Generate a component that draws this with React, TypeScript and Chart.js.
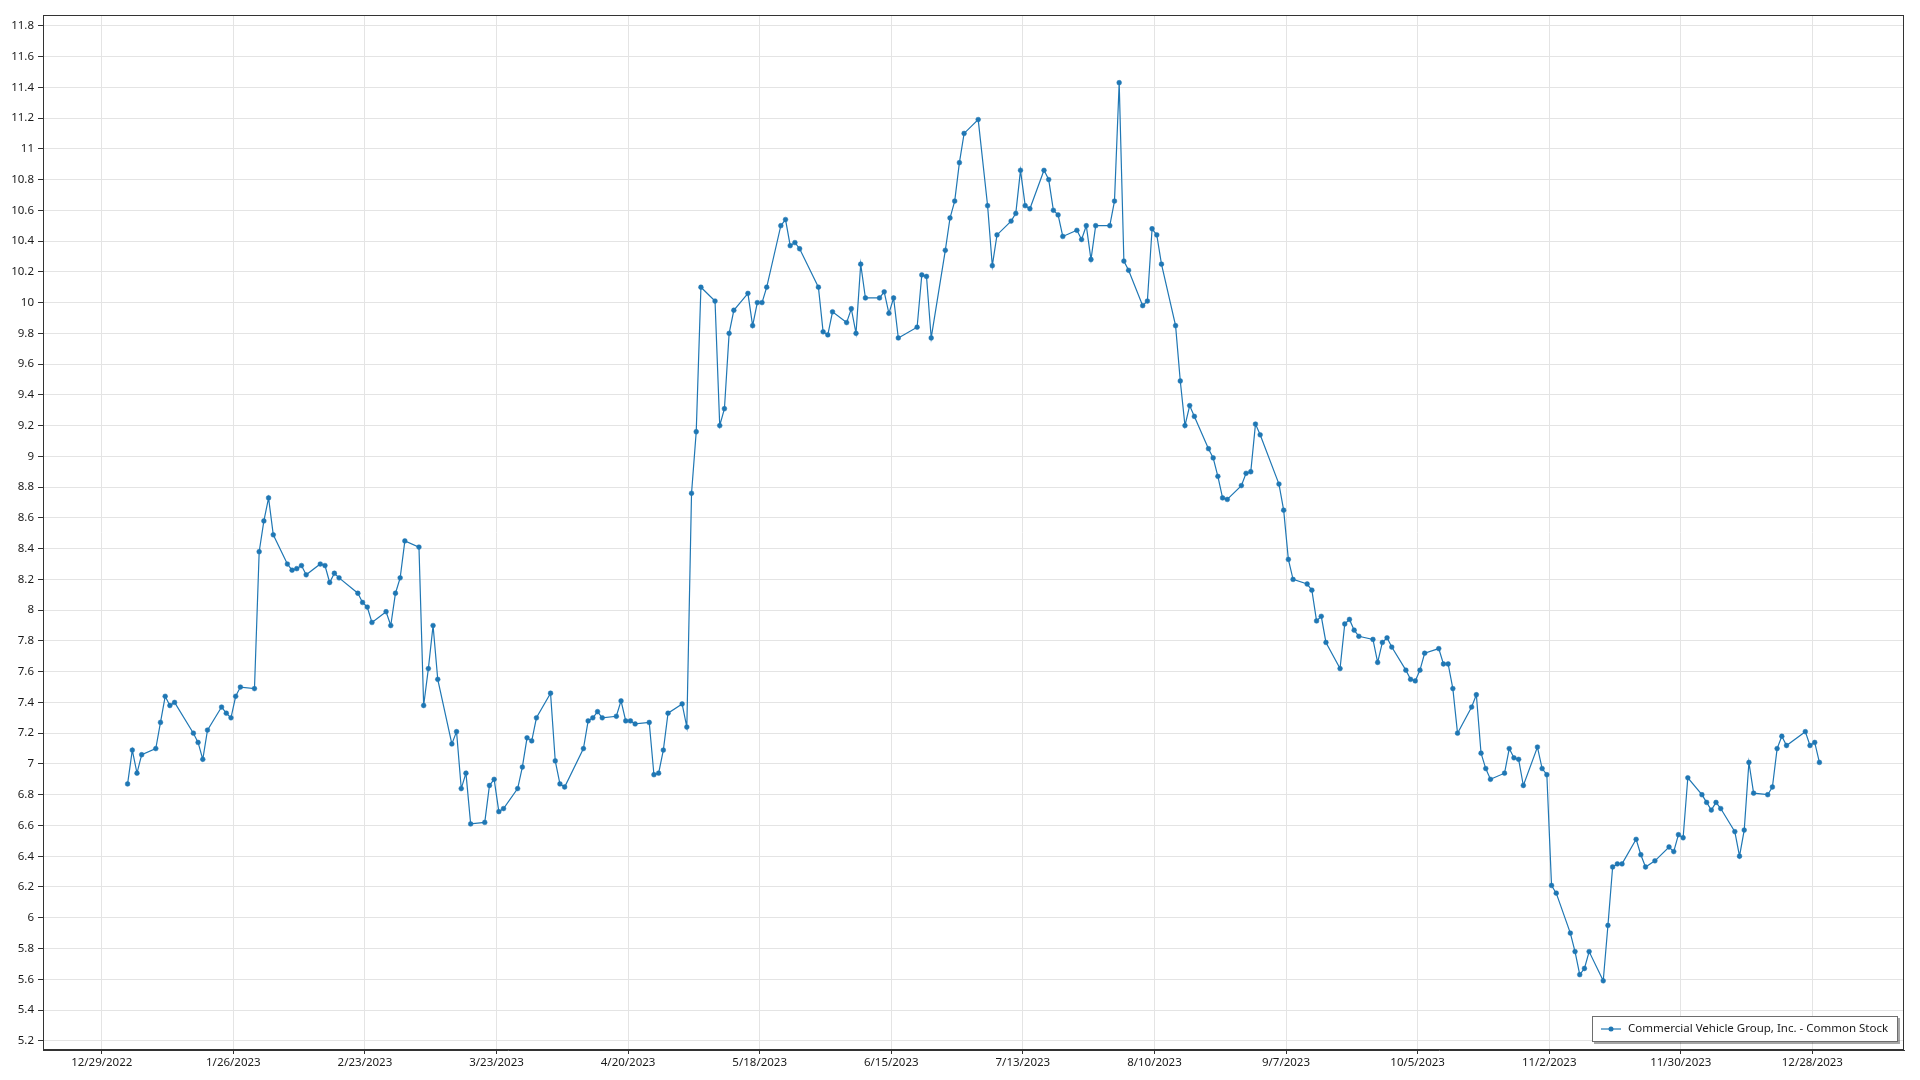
import React, { useEffect, useRef } from 'react';
import { Chart, registerables } from 'chart.js';

Chart.register(...registerables);

const SERIES_LABEL = 'Commercial Vehicle Group, Inc. - Common Stock';
const YEAR = 2023;

// Trading days (day of month) and closing prices, per month of 2023
const janDays = [3, 4, 5, 6, 9, 10, 11, 12, 13, 17, 18, 19, 20, 23, 24, 25, 26, 27, 30, 31];
const janClose = [6.87, 7.09, 6.94, 7.06, 7.1, 7.27, 7.44, 7.38, 7.4, 7.2, 7.14, 7.03, 7.22, 7.37, 7.33, 7.3, 7.44, 7.5, 7.49, 8.38];
const febDays = [1, 2, 3, 6, 7, 8, 9, 10, 13, 14, 15, 16, 17, 21, 22, 23, 24, 27, 28];
const febClose = [8.58, 8.73, 8.49, 8.3, 8.26, 8.27, 8.29, 8.23, 8.3, 8.29, 8.18, 8.24, 8.21, 8.11, 8.05, 8.02, 7.92, 7.99, 7.9];
const marDays = [1, 2, 3, 6, 7, 8, 9, 10, 13, 14, 15, 16, 17, 20, 21, 22, 23, 24, 27, 28, 29, 30, 31];
const marClose = [8.11, 8.21, 8.45, 8.41, 7.38, 7.62, 7.9, 7.55, 7.13, 7.21, 6.84, 6.94, 6.61, 6.62, 6.86, 6.9, 6.69, 6.71, 6.84, 6.98, 7.17, 7.15, 7.3];
const aprDays = [3, 4, 5, 6, 10, 11, 12, 13, 14, 17, 18, 19, 20, 21, 24, 25, 26, 27, 28];
const aprClose = [7.46, 7.02, 6.87, 6.85, 7.1, 7.28, 7.3, 7.34, 7.3, 7.31, 7.41, 7.28, 7.28, 7.26, 7.27, 6.93, 6.94, 7.09, 7.33];
const mayDays = [1, 2, 3, 4, 5, 8, 9, 10, 11, 12, 15, 16, 17, 18, 19, 22, 23, 24, 25, 26, 30, 31];
const mayClose = [7.39, 7.24, 8.76, 9.16, 10.1, 10.01, 9.2, 9.31, 9.8, 9.95, 10.06, 9.85, 10.0, 10.0, 10.1, 10.5, 10.54, 10.37, 10.39, 10.35, 10.1, 9.81];
const junDays = [1, 2, 5, 6, 7, 8, 9, 12, 13, 14, 15, 16, 20, 21, 22, 23, 26, 27, 28, 29, 30];
const junClose = [9.79, 9.94, 9.87, 9.96, 9.8, 10.25, 10.03, 10.03, 10.07, 9.93, 10.03, 9.77, 9.84, 10.18, 10.17, 9.77, 10.34, 10.55, 10.66, 10.91, 11.1];
const julDays = [3, 5, 6, 7, 10, 11, 12, 13, 14, 17, 18, 19, 20, 21, 24, 25, 26, 27, 28, 31];
const julClose = [11.19, 10.63, 10.24, 10.44, 10.53, 10.58, 10.86, 10.63, 10.61, 10.86, 10.8, 10.6, 10.57, 10.43, 10.47, 10.41, 10.5, 10.28, 10.5, 10.5];
const augDays = [1, 2, 3, 4, 7, 8, 9, 10, 11, 14, 15, 16, 17, 18, 21, 22, 23, 24, 25, 28, 29, 30, 31];
const augClose = [10.66, 11.43, 10.27, 10.21, 9.98, 10.01, 10.48, 10.44, 10.25, 9.85, 9.49, 9.2, 9.33, 9.26, 9.05, 8.99, 8.87, 8.73, 8.72, 8.81, 8.89, 8.9, 9.21];
const sepDays = [1, 5, 6, 7, 8, 11, 12, 13, 14, 15, 18, 19, 20, 21, 22, 25, 26, 27, 28, 29];
const sepClose = [9.14, 8.82, 8.65, 8.33, 8.2, 8.17, 8.13, 7.93, 7.96, 7.79, 7.62, 7.91, 7.94, 7.87, 7.83, 7.81, 7.66, 7.79, 7.82, 7.76];
const octDays = [2, 3, 4, 5, 6, 9, 10, 11, 12, 13, 16, 17, 18, 19, 20, 23, 24, 25, 26, 27, 30, 31];
const octClose = [7.61, 7.55, 7.54, 7.61, 7.72, 7.75, 7.65, 7.65, 7.49, 7.2, 7.37, 7.45, 7.07, 6.97, 6.9, 6.94, 7.1, 7.04, 7.03, 6.86, 7.11, 6.97];
const novDays = [1, 2, 3, 6, 7, 8, 9, 10, 13, 14, 15, 16, 17, 20, 21, 22, 24, 27, 28, 29, 30];
const novClose = [6.93, 6.21, 6.16, 5.9, 5.78, 5.63, 5.67, 5.78, 5.59, 5.95, 6.33, 6.35, 6.35, 6.51, 6.41, 6.33, 6.37, 6.46, 6.43, 6.54, 6.52];
const decDays = [1, 4, 5, 6, 7, 8, 11, 12, 13, 14, 15, 18, 19, 20, 21, 22, 26, 27, 28, 29];
const decClose = [6.91, 6.8, 6.75, 6.7, 6.75, 6.71, 6.56, 6.4, 6.57, 7.01, 6.81, 6.8, 6.85, 7.1, 7.18, 7.12, 7.21, 7.12, 7.14, 7.01];

// X-axis tick labels (every 28 days, at midnight)
const xTickLabels = [
  '12/29/2022', '1/26/2023', '2/23/2023', '3/23/2023', '4/20/2023', '5/18/2023', '6/15/2023',
  '7/13/2023', '8/10/2023', '9/7/2023', '10/5/2023', '11/2/2023', '11/30/2023', '12/28/2023',
];

// Y-axis tick values
const yTickValues = [
  5.2, 5.4, 5.6, 5.8, 6, 6.2, 6.4, 6.6, 6.8, 7, 7.2, 7.4, 7.6, 7.8, 8, 8.2, 8.4, 8.6,
  8.8, 9, 9.2, 9.4, 9.6, 9.8, 10, 10.2, 10.4, 10.6, 10.8, 11, 11.2, 11.4, 11.6, 11.8,
];

// Axis bounds: noon of these dates
const X_MIN_DATE = '12/16/2022';
const X_MAX_DATE = '1/16/2024';
const Y_MIN = 5.14;
const Y_MAX = 11.87;

const NOON = 0.5; // daily closes are stamped at noon of their trading day
const EPOCH = Date.UTC(2022, 11, 29);
const dayIndexFromParts = (y: number, m: number, d: number) => (Date.UTC(y, m - 1, d) - EPOCH) / 86400000;
const dayIndexFromLabel = (s: string) => {
  const [m, d, y] = s.split('/').map(Number);
  return dayIndexFromParts(y, m, d);
};

const monthDays = [janDays, febDays, marDays, aprDays, mayDays, junDays, julDays, augDays, sepDays, octDays, novDays, decDays];
const monthClose = [janClose, febClose, marClose, aprClose, mayClose, junClose, julClose, augClose, sepClose, octClose, novClose, decClose];

const FONT_FAMILY = "'Segoe UI', 'Noto Sans', sans-serif";
const FONT_SIZE = 11.5;
const LINE_COLOR = '#1f77b4';
const TEXT_COLOR = '#1a1a1a';

const framePlugin = {
  id: 'frame',
  afterDraw(chart: any) {
    const { ctx, chartArea } = chart;
    ctx.save();
    ctx.strokeStyle = '#333333';
    ctx.lineWidth = 1;
    ctx.strokeRect(
      Math.round(chartArea.left) + 0.5,
      Math.round(chartArea.top) + 0.5,
      Math.round(chartArea.right - chartArea.left) - 1,
      Math.round(chartArea.bottom - chartArea.top) - 1,
    );
    ctx.restore();
  },
};

const insideLegendPlugin = {
  id: 'insideLegend',
  afterDraw(chart: any) {
    const { ctx, chartArea } = chart;
    const ds = chart.data.datasets[0];
    ctx.save();
    ctx.font = `${FONT_SIZE}px ${FONT_FAMILY}`;
    const tw = ctx.measureText(ds.label).width;
    const w = Math.round(36 + tw + 10);
    const h = 26;
    const right = Math.round(chartArea.right) - 6;
    const bottom = Math.round(chartArea.bottom) - 8;
    const left = right - w;
    const top = bottom - h;
    // shadow
    ctx.fillStyle = 'rgba(0,0,0,0.35)';
    ctx.fillRect(left + 2, top + 2, w, h);
    // box
    ctx.fillStyle = '#ffffff';
    ctx.fillRect(left, top, w, h);
    ctx.strokeStyle = '#6e6e6e';
    ctx.lineWidth = 1;
    ctx.strokeRect(left + 0.5, top + 0.5, w - 1, h - 1);
    // sample
    const my = top + h / 2;
    ctx.strokeStyle = LINE_COLOR;
    ctx.lineWidth = 1.2;
    ctx.beginPath();
    ctx.moveTo(left + 9, my);
    ctx.lineTo(left + 29, my);
    ctx.stroke();
    ctx.fillStyle = LINE_COLOR;
    ctx.beginPath();
    ctx.arc(left + 19, my, 2.5, 0, Math.PI * 2);
    ctx.fill();
    // text
    ctx.fillStyle = TEXT_COLOR;
    ctx.textBaseline = 'middle';
    ctx.textAlign = 'left';
    ctx.fillText(ds.label, left + 36, my);
    ctx.restore();
  },
};

export default function App() {
  const canvasRef = useRef<HTMLCanvasElement | null>(null);

  useEffect(() => {
    if (!canvasRef.current) return;
    const points: { x: number; y: number }[] = [];
    monthDays.forEach((days, mi) => {
      days.forEach((d, i) => {
        points.push({ x: dayIndexFromParts(YEAR, mi + 1, d) + NOON, y: monthClose[mi][i] });
      });
    });

    const xTickPositions = xTickLabels.map(dayIndexFromLabel);

    const chart = new Chart(canvasRef.current, {
      type: 'line',
      data: {
        datasets: [
          {
            label: SERIES_LABEL,
            data: points,
            borderColor: LINE_COLOR,
            backgroundColor: LINE_COLOR,
            borderWidth: 1.2,
            pointRadius: 2.4,
            pointBackgroundColor: LINE_COLOR,
            pointBorderColor: LINE_COLOR,
            pointBorderWidth: 0.5,
            tension: 0,
            fill: false,
          },
        ],
      },
      options: {
        responsive: false,
        animation: false,
        devicePixelRatio: 1,
        layout: { padding: { top: 15, right: 16, left: 0, bottom: 0 } },
        plugins: {
          legend: { display: false },
          tooltip: { enabled: false },
        },
        scales: {
          x: {
            type: 'linear',
            min: dayIndexFromLabel(X_MIN_DATE) + NOON,
            max: dayIndexFromLabel(X_MAX_DATE) + NOON,
            afterBuildTicks: (scale: any) => {
              scale.ticks = xTickPositions.map((v) => ({ value: v }));
            },
            afterFit: (scale: any) => {
              scale.height = 30;
            },
            ticks: {
              autoSkip: false,
              maxRotation: 0,
              minRotation: 0,
              padding: 2,
              color: TEXT_COLOR,
              font: { family: FONT_FAMILY, size: FONT_SIZE },
              callback: (_v: any, i: number) => xTickLabels[i],
            },
            grid: {
              color: '#e4e4e4',
              lineWidth: 1,
              drawTicks: true,
              tickLength: 4,
              tickColor: '#333333',
            },
            border: { display: true, color: '#333333', width: 1 },
          },
          y: {
            type: 'linear',
            min: Y_MIN,
            max: Y_MAX,
            afterBuildTicks: (scale: any) => {
              scale.ticks = yTickValues.map((v) => ({ value: v }));
            },
            afterFit: (scale: any) => {
              scale.width = 43;
            },
            ticks: {
              padding: 4,
              color: TEXT_COLOR,
              font: { family: FONT_FAMILY, size: FONT_SIZE },
              callback: (v: any) => String(Number(Number(v).toFixed(1))),
            },
            grid: {
              color: '#e4e4e4',
              lineWidth: 1,
              drawTicks: true,
              tickLength: 5,
              tickColor: '#333333',
            },
            border: { display: true, color: '#333333', width: 1 },
          },
        },
      },
      plugins: [framePlugin, insideLegendPlugin],
    });

    return () => {
      chart.destroy();
    };
  }, []);

  return (
    <div style={{ position: 'absolute', left: 0, top: 0, width: 1920, height: 1080, background: '#ffffff' }}>
      <canvas ref={canvasRef} width={1920} height={1080} style={{ display: 'block', width: 1920, height: 1080 }} />
    </div>
  );
}
